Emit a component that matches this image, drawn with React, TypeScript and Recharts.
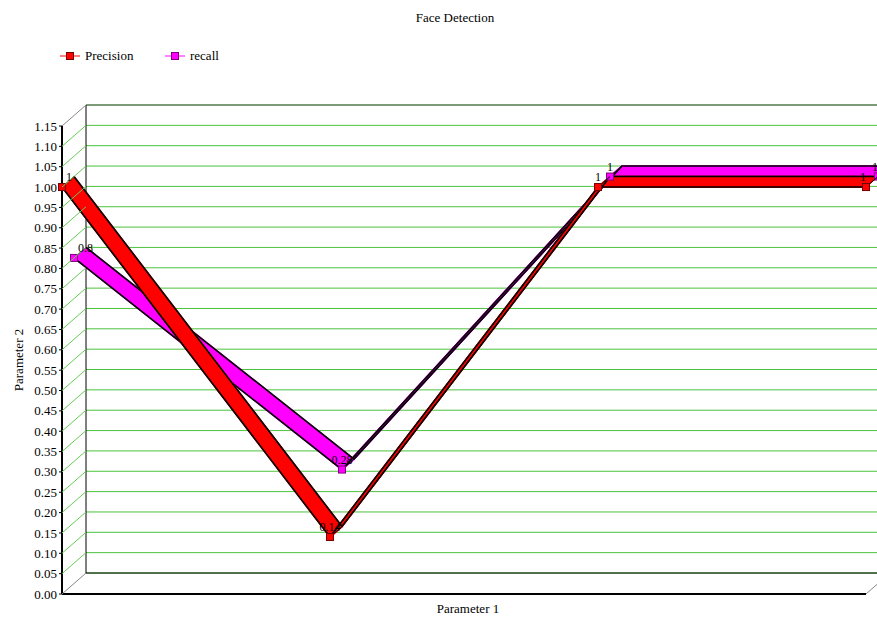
import React from "react"
import { LineChart, Line, XAxis, YAxis, CartesianGrid, ReferenceLine } from "recharts"

const categories = ["1", "2", "3", "4"]
const precision = [1, 0.14, 1, 1]
const recall = [0.8, 0.28, 1, 1]
const yTicks = [
  0, 0.05, 0.1, 0.15, 0.2, 0.25, 0.3, 0.35, 0.4, 0.45, 0.5, 0.55,
  0.6, 0.65, 0.7, 0.75, 0.8, 0.85, 0.9, 0.95, 1, 1.05, 1.1, 1.15,
]

const data = categories.map((c, i) => ({ name: c, precision: precision[i], recall: recall[i] }))

const FONT = '"Liberation Serif", "Times New Roman", serif'
// depth of the fake 3d box, in px
const DX = 24
const DY = -21
const STEPS = 16

// slot 0 = front half of the box, slot 1 = back half
const series = [
  { key: "recall", label: "recall", fill: "#ff00ff", edge: "#800080", slot: 1 },
  { key: "precision", label: "Precision", fill: "#ff0000", edge: "#700000", slot: 0 },
]

const depthCss = Array.from({ length: STEPS * 2 + 1 }, (_, j) => {
  const f = j / (STEPS * 2)
  return `.dz-${j}{transform:translate(${f * DX}px,${f * DY}px);}`
}).join("\n") + `\n.recharts-cartesian-grid-horizontal{transform:translate(${DX}px,${DY}px);}`

function YTick(props: any) {
  const { x, y, payload } = props
  const ax = x + 5
  const v = payload.value
  const wall = v === 0 || v === 1.15 ? "#888" : "#66cc55"
  return (
    <g>
      <line x1={ax} y1={y} x2={ax + DX} y2={y + DY} stroke={wall} />
      <text x={x} y={y} dy="0.35em" textAnchor="end" fontSize={13} fontFamily={FONT} fill="#000">
        {v.toFixed(2)}
      </text>
    </g>
  )
}

function makeMarker(fill: string, edge: string, ox: number, oy: number) {
  return (p: any) => {
    const cx = p.cx + ox
    const cy = p.cy + oy
    return (
      <g key={`m-${p.index}`}>
        <line x1={cx} y1={cy} x2={cx + DX / 2} y2={cy + DY / 2} stroke="#000" />
        <rect x={cx - 3.5} y={cy - 3.5} width={7} height={7} fill={fill} stroke={edge} />
      </g>
    )
  }
}

function makeLabel(ox: number, oy: number) {
  return (p: any) => {
    const last = p.index === categories.length - 1
    const first = p.index === 0
    const anchor = first ? "start" : last ? "end" : "middle"
    const x = p.x + ox + (first ? 4 : 0)
    return (
      <text key={`l-${p.index}`} x={x} y={p.y + oy - 6} textAnchor={anchor} fontSize={12} fontFamily={FONT} fill="#000">
        {p.value}
      </text>
    )
  }
}

const topEdge = (p: any) => (
  <line x1={p.x1 + DX} y1={p.y1 + DY} x2={p.x2 + DX} y2={p.y2 + DY} stroke="#555" />
)
const floorEdge = (p: any) => (
  <g>
    <line x1={p.x1 + DX} y1={p.y1 + DY} x2={p.x2 + DX} y2={p.y2 + DY} stroke="#000" />
    <line x1={p.x2} y1={p.y2} x2={p.x2 + DX} y2={p.y2 + DY} stroke="#888" />
  </g>
)
const backWall = (p: any) => (
  <line x1={p.x1 + DX} y1={p.y1 + DY} x2={p.x2 + DX} y2={p.y2 + DY} stroke="#000" />
)

function ribbon(s: typeof series[number]) {
  const start = s.slot * STEPS
  const out: React.ReactNode[] = []
  for (let k = 0; k <= STEPS; k++) {
    out.push(
      <Line key={`${s.key}-f${k}`} dataKey={s.key} className={`dz-${start + k}`} stroke={s.fill}
        strokeWidth={1.7} dot={false} activeDot={false} legendType="none" isAnimationActive={false} />
    )
  }
  for (const j of [start, start + STEPS]) {
    out.push(
      <Line key={`${s.key}-e${j}`} dataKey={s.key} className={`dz-${j}`} stroke="#000"
        strokeWidth={1.6} dot={false} activeDot={false} legendType="none" isAnimationActive={false} />
    )
  }
  const ox = s.slot * DX / 2
  const oy = s.slot * DY / 2
  out.push(
    <Line key={`${s.key}-m`} dataKey={s.key} stroke="none"
      dot={makeMarker(s.fill, s.edge, ox, oy)} activeDot={false} label={makeLabel(ox, oy)}
      legendType="none" isAnimationActive={false} />
  )
  return out
}

export default function App() {
  return (
    <div style={{ position: "absolute", left: 0, top: 0, width: 877, height: 619, background: "#fff", fontFamily: FONT }}>
      <style>{depthCss}</style>
      <div style={{ position: "absolute", top: 10, left: 0, width: 910, textAlign: "center", fontSize: 13 }}>
        Face Detection
      </div>
      {[...series].reverse().map((s, i) => (
        <div key={s.key} style={{ position: "absolute", top: 48, left: 59 + i * 105, display: "flex", alignItems: "center", fontSize: 13 }}>
          <svg width={22} height={16}>
            <line x1={1} y1={8} x2={21} y2={8} stroke={s.fill} />
            <rect x={7.5} y={4.5} width={7} height={7} fill={s.fill} stroke={s.edge} />
          </svg>
          <span style={{ marginLeft: 4 }}>{s.label}</span>
        </div>
      ))}
      <LineChart width={877} height={619} data={data} margin={{ top: 126, right: 11, bottom: 0, left: 0 }}>
        <CartesianGrid vertical={false} stroke="#4cc23c" />
        <ReferenceLine y={1.15} shape={topEdge} />
        <ReferenceLine y={0} shape={floorEdge} />
        <ReferenceLine x={categories[0]} shape={backWall} />
        <XAxis dataKey="name" tick={false} tickLine={false} height={25}
          axisLine={{ stroke: "#000", strokeWidth: 2 }}
          label={{
            content: (p: any) => (
              <text x={p.viewBox.x + p.viewBox.width / 2 + 4} y={p.viewBox.y + 19} textAnchor="middle"
                fontSize={13} fontFamily={FONT} fill="#000">Parameter 1</text>
            ),
          }} />
        <YAxis type="number" domain={[0, 1.15]} ticks={yTicks} interval={0} width={62}
          tickSize={3} tickMargin={2} tick={YTick}
          axisLine={{ stroke: "#000", strokeWidth: 2 }} tickLine={{ stroke: "#000" }}
          label={{
            content: (p: any) => {
              const cx = p.viewBox.x + 18
              const cy = p.viewBox.y + p.viewBox.height / 2
              return (
                <text x={cx} y={cy} transform={`rotate(-90 ${cx} ${cy})`} textAnchor="middle" dy="0.35em"
                  fontSize={13} fontFamily={FONT} fill="#000">Parameter 2</text>
              )
            },
          }} />
        {series.map((s) => ribbon(s))}
      </LineChart>
    </div>
  )
}
